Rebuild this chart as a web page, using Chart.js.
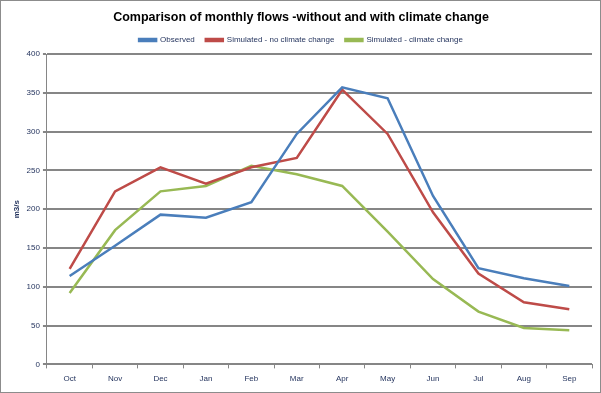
<!DOCTYPE html>
<html>
<head>
<meta charset="utf-8">
<script src="https://cdn.jsdelivr.net/npm/chart.js@4/dist/chart.umd.min.js"></script>
<style>
  html, body { margin: 0; padding: 0; background: #fff; }
  #wrap { width: 601px; height: 393px; box-sizing: border-box; border: 1px solid #8c8c8c; position: relative; }
  canvas { display: block; }
</style>
</head>
<body>
<div id="wrap"><canvas id="flows" width="599" height="391"></canvas></div>
<script>
// months
const months = ['Oct','Nov','Dec','Jan','Feb','Mar','Apr','May','Jun','Jul','Aug','Sep'];

// flows (m3/s)
const observed = [114, 153, 193, 189, 209, 297, 357, 343, 217, 124, 111, 101];
const simNoCC  = [123, 223, 254, 233, 254, 266, 354, 297, 196, 117, 80, 71];
const simCC    = [92, 173, 223, 230, 256, 245, 230, 171, 110, 68, 47, 44];

const labelColor = '#1f2f5a';
const gridColor = '#868686';

const ctx = document.getElementById('flows');

new Chart(ctx, {
  type: 'line',
  data: {
    labels: months,
    datasets: [{
      label: 'Observed',
      data: observed,
      borderColor: '#4a7ebb',
      backgroundColor: '#4a7ebb',
      borderWidth: 2.5,
      pointRadius: 0,
      tension: 0
    }, {
      label: 'Simulated - no climate change',
      data: simNoCC,
      borderColor: '#be4b48',
      backgroundColor: '#be4b48',
      borderWidth: 2.5,
      pointRadius: 0,
      tension: 0
    }, {
      label: 'Simulated - climate change',
      data: simCC,
      borderColor: '#98b954',
      backgroundColor: '#98b954',
      borderWidth: 2.5,
      pointRadius: 0,
      tension: 0
    }]
  },
  options: {
    responsive: false,
    animation: false,
    devicePixelRatio: 1,
    layout: { padding: { left: 9, right: 8, top: 3, bottom: 2 } },
    plugins: {
      title: {
        display: true,
        text: 'Comparison of monthly flows -without and with climate change',
        color: '#000',
        font: { family: 'Liberation Sans', size: 12.5, weight: 'bold' },
        padding: { top: 6, bottom: 0 }
      },
      legend: {
        display: true,
        labels: {
          boxWidth: 17,
          boxHeight: 2,
          padding: 11,
          color: labelColor,
          font: { family: 'Liberation Sans', size: 8 }
        }
      },
      tooltip: { enabled: false }
    },
    scales: {
      x: {
        offset: true,
        grid: {
          offset: true,
          drawOnChartArea: false,
          drawTicks: true,
          tickLength: 4,
          color: gridColor
        },
        border: { color: gridColor, width: 1 },
        ticks: {
          color: labelColor,
          font: { family: 'Liberation Sans', size: 8 },
          padding: 6,
          maxRotation: 0
        }
      },
      y: {
        min: 0,
        max: 400,
        afterFit: (scale) => { scale.paddingTop = 0; },
        ticks: {
          stepSize: 50,
          color: labelColor,
          font: { family: 'Liberation Sans', size: 8 },
          padding: 3
        },
        grid: {
          color: gridColor,
          lineWidth: 2,
          tickLength: 4,
          drawTicks: true
        },
        border: { color: gridColor, width: 1 },
        title: {
          display: true,
          text: 'm3/s',
          color: labelColor,
          font: { family: 'Liberation Sans', size: 8, weight: 'bold' },
          padding: 2
        }
      }
    }
  }
});
</script>
</body>
</html>
